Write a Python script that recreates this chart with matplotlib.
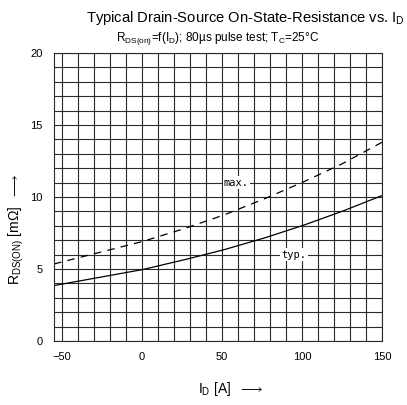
import numpy as np
import matplotlib
matplotlib.use("Agg")
import matplotlib.pyplot as plt

plt.rcParams["font.family"] = ["Liberation Sans", "DejaVu Sans"]
plt.rcParams["mathtext.fontset"] = "custom"
plt.rcParams["mathtext.rm"] = "Liberation Sans"
plt.rcParams["mathtext.it"] = "Liberation Sans"

# values
i_d = [-55, -25, 0, 25, 50, 75, 100, 125, 150]
r_typ = [3.85, 4.45, 4.95, 5.6, 6.3, 7.1, 8.0, 9.0, 10.1]
r_max = [5.35, 6.2, 6.9, 7.75, 8.7, 9.8, 11.0, 12.3, 13.8]

x_ticks = [-50, 0, 50, 100, 150]
y_ticks = [0, 5, 10, 15, 20]

fig = plt.figure(figsize=(4.07, 4.05), dpi=100)
ax = fig.add_axes([54 / 407, 64 / 405, 328 / 407, 288 / 405])

xs = np.linspace(i_d[0], i_d[-1], 200)
ax.plot(xs, np.interp(xs, i_d, r_typ), color="black", lw=0.9)
ax.plot(xs, np.interp(xs, i_d, r_max), color="black", lw=0.9, ls=(0, (6, 5)))

ax.set_xlim(-55, 150)
ax.set_ylim(0, 20)
ax.set_xticks(np.arange(-50, 150, 10), minor=True)
ax.set_yticks(np.arange(0, 21, 1), minor=True)
ax.set_xticks(x_ticks)
ax.set_yticks(y_ticks)
ax.grid(which="both", color="#2a2a2a", lw=0.8)
ax.set_axisbelow(True)
ax.tick_params(which="both", length=0, labelsize=8, pad=8)
for s in ax.spines.values():
    s.set_color("#2a2a2a")
    s.set_linewidth(0.8)

lbl = dict(fontsize=7.5, family="DejaVu Sans Mono", ha="center", va="center",
           bbox=dict(facecolor="white", edgecolor="none", pad=1))
ax.text(59, 11.0, "max.", **lbl)
ax.text(95, 6.0, "typ.", **lbl)

fig.text(0.995, 0.955, "Typical Drain-Source On-State-Resistance vs. I$_\\mathrm{D}$",
         ha="right", va="center", fontsize=10.6)
fig.text(0.535, 0.905, "R$_\\mathrm{DS(on)}$=f(I$_\\mathrm{D}$); 80µs pulse test; T$_\\mathrm{C}$=25°C",
         ha="center", va="center", fontsize=8.5)

ax.set_xlabel("I$_\\mathrm{D}$ [A]  $\\longrightarrow$", fontsize=10)
ax.xaxis.set_label_coords(0.54, -0.135)
ax.set_ylabel("R$_\\mathrm{DS(ON)}$ [mΩ]  $\\longrightarrow$", fontsize=10)
ax.yaxis.set_label_coords(-0.085, 0.39)

fig.savefig("out.png", dpi=100)
